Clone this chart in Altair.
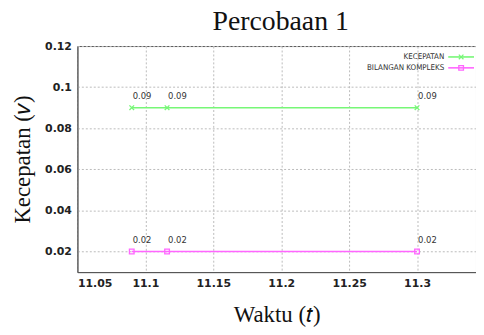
import altair as alt
import pandas as pd

waktu = [11.09, 11.116, 11.30]
kecepatan = [0.09, 0.09, 0.09]
bilangan = [0.02, 0.02, 0.02]
series_names = ["KECEPATAN", "BILANGAN KOMPLEKS"]
colors = ["#77f777", "#ff66ff"]
x_ticks = [11.05, 11.1, 11.15, 11.2, 11.25, 11.3]
y_ticks = [0.02, 0.04, 0.06, 0.08, 0.1, 0.12]

rows = []
for t, v in zip(waktu, kecepatan):
    rows.append({"t": t, "v": v, "s": series_names[0], "lab": f"{v:.2f}"})
for t, v in zip(waktu, bilangan):
    rows.append({"t": t, "v": v, "s": series_names[1], "lab": f"{v:.2f}"})
df = pd.DataFrame(rows)

W, H = 402, 228
xs = alt.Scale(domain=[11.05, 11.3434], nice=False, zero=False)
ys = alt.Scale(domain=[0.01, 0.12], nice=False, zero=False)
cs = alt.Scale(domain=series_names, range=colors)
cross = "M-1,-1L1,1M-1,1L1,-1"
shs = alt.Scale(domain=series_names, range=[cross, "square"])

x_enc = alt.X("t:Q", scale=xs, axis=alt.Axis(
    values=x_ticks, title="Waktu (𝑡)", labelExpr="format(datum.value, '.4~f')",
    grid=True, gridDash=[2, 2], gridColor="#bbbbbb", domainColor="#555555",
    tickSize=0, labelPadding=6, labelFont="DejaVu Sans", labelFontWeight="bold",
    labelFontSize=11, labelColor="#222222", titleFont="Liberation Serif",
    titleFontSize=23, titleFontWeight="normal", titlePadding=15, titleColor="#111111"))
y_enc = alt.Y("v:Q", scale=ys, axis=alt.Axis(
    values=y_ticks, title="Kecepatan (𝑣)", labelExpr="format(datum.value, '.2~f')",
    grid=True, gridDash=[2, 2], gridColor="#bbbbbb", domainColor="#555555",
    tickSize=0, labelPadding=6, labelFont="DejaVu Sans", labelFontWeight="bold",
    labelFontSize=11, labelColor="#222222", titleFont="Liberation Serif",
    titleFontSize=23, titleFontWeight="normal", titlePadding=10, titleColor="#111111"))

base = alt.Chart(df)
lines = base.mark_line(strokeWidth=1.6).encode(
    x=x_enc, y=y_enc, color=alt.Color("s:N", scale=cs, legend=None), detail="s:N")
pts = base.mark_point(filled=False, size=22, strokeWidth=1.3, opacity=1).encode(
    x="t:Q", y="v:Q", color=alt.Color("s:N", scale=cs, legend=None),
    shape=alt.Shape("s:N", scale=shs, legend=None))
labels = base.mark_text(align="left", baseline="middle", dx=1, dy=-12,
                        fontSize=8.5, font="DejaVu Sans", color="#333333").encode(
    x="t:Q", y="v:Q", text="lab:N")

leg_df = pd.DataFrame({"s": series_names, "row": [0, 1]})
leg_layers = []
for i, yy in enumerate([11, 22]):
    lb = alt.Chart(leg_df).transform_filter(f"datum.row == {i}")
    leg_layers.append(lb.mark_rule(strokeWidth=1.6).encode(
        x=alt.value(374), x2=alt.value(400), y=alt.value(yy),
        color=alt.Color("s:N", scale=cs, legend=None)))
    leg_layers.append(lb.mark_point(filled=False, size=22, strokeWidth=1.3, opacity=1).encode(
        x=alt.value(387), y=alt.value(yy), color=alt.Color("s:N", scale=cs, legend=None),
        shape=alt.Shape("s:N", scale=shs, legend=None)))
    leg_layers.append(lb.mark_text(align="right", baseline="middle", fontSize=8,
                                   font="DejaVu Sans Condensed", color="#333333").encode(
        x=alt.value(370), y=alt.value(yy), text="s:N"))

chart = alt.layer(lines, pts, labels, *leg_layers).properties(
    width=W, height=H,
    title=alt.Title("Percobaan 1", font="Liberation Serif", fontSize=28,
                    fontWeight="normal", color="#111111", anchor="middle",
                    frame="group", offset=4, dx=4),
    autosize=alt.AutoSizeParams(type="none"),
    padding={"left": 70, "top": 37, "right": 0, "bottom": 54},
    background="white",
).configure_view(stroke="#555555", strokeWidth=1)

chart.save("out.html", embed_options={"renderer": "svg", "actions": False})
